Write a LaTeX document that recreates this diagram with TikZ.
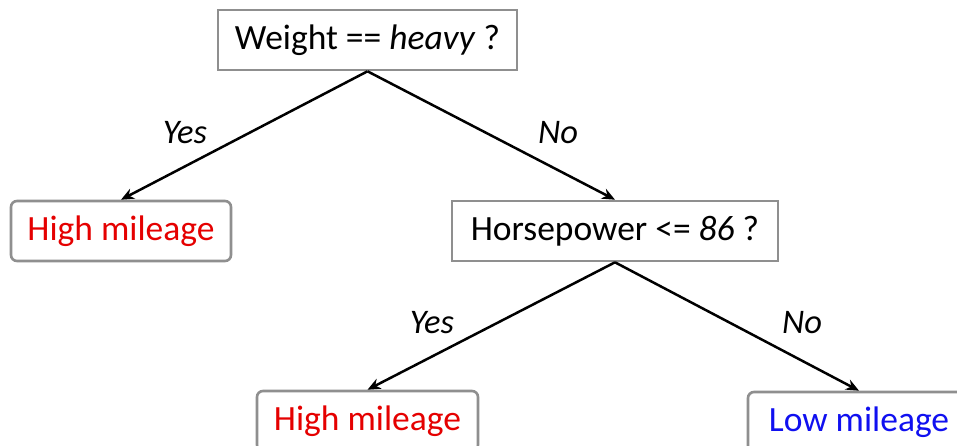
\documentclass[tikz,border=0pt]{standalone}
\usepackage{fontspec}
\setmainfont{Carlito}
\usetikzlibrary{arrows.meta}
\definecolor{boxgray}{HTML}{8F8F8F}
\definecolor{leafred}{HTML}{E50000}
\definecolor{leafblue}{HTML}{1010F0}
\begin{document}
\begin{tikzpicture}[x=1pt,y=-1pt,
  every node/.style={font=\fontsize{35.5}{40}\selectfont},
  testbox/.style={draw=boxgray, line width=2.6pt, fill=white, inner sep=0pt,
    minimum height=60pt},
  leafbox/.style={draw=boxgray, line width=2.6pt, fill=white, inner sep=0pt,
    rounded corners=6pt, minimum height=60pt},
  branch/.style={draw=black, line width=2.5pt, -{Stealth[length=13pt,width=11pt]}},
  answer/.style={font=\fontsize{34.5}{40}\selectfont\itshape}
]
\useasboundingbox (0,0) rectangle (957,445);
\clip (0,0) rectangle (957,445);

% decision nodes
\node[testbox, minimum width=299pt] (root) at (367.5,40) {Weight == \textit{heavy} ?};
\node[testbox, minimum width=326pt] (hp) at (615,231) {Horsepower <= \textit{86} ?};

% leaves
\node[leafbox, minimum width=220pt, text=leafred] (leafA) at (121,231) {High mileage};
\node[leafbox, minimum width=221pt, text=leafred] (leafB) at (367.5,421) {High mileage};
\node[leafbox, minimum width=222pt, text=leafblue] (leafC) at (859,422) {Low mileage};

% branches
\draw[branch] (root.south) -- (leafA.north);
\draw[branch] (root.south) -- (hp.north);
\draw[branch] (hp.south) -- (leafB.north);
\draw[branch] (hp.south) -- (leafC.north);

% branch answers
\node[answer] (yesA) at (185,133) {Yes};
\node[answer] (noA) at (558,133) {No};
\node[answer] (yesB) at (432,323) {Yes};
\node[answer] (noB) at (802,323) {No};
\end{tikzpicture}
\end{document}
